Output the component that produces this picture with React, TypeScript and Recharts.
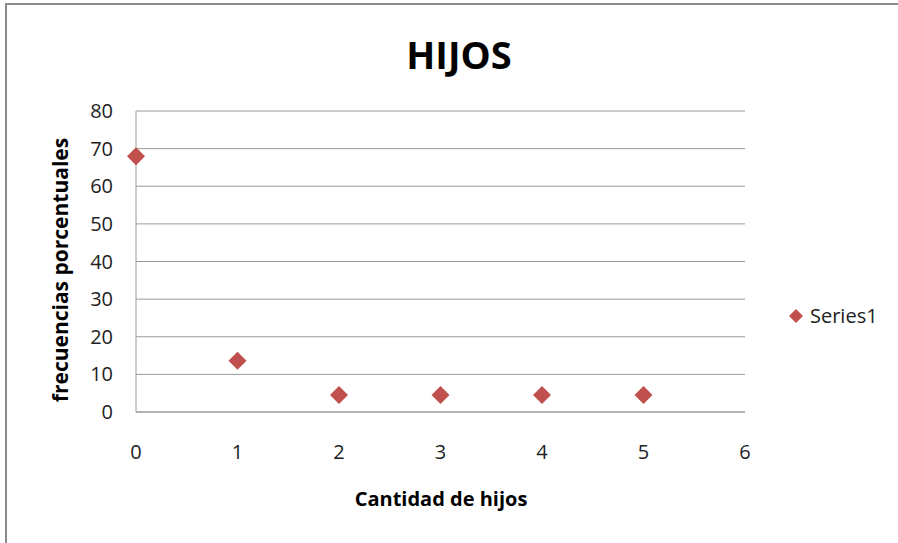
import { ScatterChart, Scatter, XAxis, YAxis, ZAxis, CartesianGrid } from 'recharts';

const hijos = [0, 1, 2, 3, 4, 5];
const frecuencias = [68, 13.6, 4.5, 4.5, 4.5, 4.5];
const xTicks = [0, 1, 2, 3, 4, 5, 6];
const yTicks = [0, 10, 20, 30, 40, 50, 60, 70, 80];
const seriesName = 'Series1';

const data = hijos.map((h, i) => ({ x: h, y: frecuencias[i] }));

const FONT = '"Open Sans", sans-serif';
const RED = '#C0504D';

function Diamond(props: any) {
  const { cx, cy } = props;
  const r = 9;
  return (
    <polygon
      points={`${cx},${cy - r} ${cx + r},${cy} ${cx},${cy + r} ${cx - r},${cy}`}
      fill={RED}
    />
  );
}

export default function App() {
  return (
    <div style={{ position: 'absolute', left: 0, top: 0, width: 898, height: 543, background: '#fff' }}>
      <div
        style={{
          position: 'absolute',
          left: 5,
          top: 3,
          width: 893,
          height: 540,
          borderTop: '2px solid #8c8c8c',
          borderLeft: '2px solid #8c8c8c',
          boxSizing: 'border-box',
        }}
      />
      <div
        style={{
          position: 'absolute',
          left: 0,
          top: 28,
          width: 918,
          textAlign: 'center',
          fontFamily: FONT,
          fontWeight: 700,
          fontSize: 38,
          color: '#000',
        }}
      >
        HIJOS
      </div>
      <div
        style={{
          position: 'absolute',
          left: 291,
          top: 485,
          width: 300,
          textAlign: 'center',
          fontFamily: FONT,
          fontWeight: 700,
          fontSize: 20,
          color: '#000',
        }}
      >
        Cantidad de hijos
      </div>
      <div
        style={{
          position: 'absolute',
          left: 61 - 160,
          top: 270 - 15,
          width: 320,
          height: 30,
          textAlign: 'center',
          fontFamily: FONT,
          fontWeight: 700,
          fontSize: 21,
          color: '#000',
          transform: 'rotate(-90deg)',
        }}
      >
        frecuencias porcentuales
      </div>
      <div
        style={{
          position: 'absolute',
          left: 788,
          top: 302,
          display: 'flex',
          alignItems: 'center',
          fontFamily: FONT,
          fontSize: 20,
          color: '#222',
        }}
      >
        <svg width={16} height={16} style={{ marginRight: 6 }}>
          <polygon points="8,1 15,8 8,15 1,8" fill={RED} />
        </svg>
        {seriesName}
      </div>
      <div style={{ position: 'absolute', left: 0, top: 0 }}>
        <ScatterChart width={898} height={543} margin={{ top: 111, right: 153, bottom: 0, left: 0 }}>
          <CartesianGrid vertical={false} stroke="#9a9a9a" />
          <XAxis
            type="number"
            dataKey="x"
            domain={[0, 6]}
            ticks={xTicks}
            height={131}
            tickLine={false}
            tickMargin={27}
            axisLine={{ stroke: '#9a9a9a' }}
            tick={{ fill: '#222', fontSize: 20, fontFamily: FONT }}
            interval={0}
          />
          <YAxis
            type="number"
            dataKey="y"
            domain={[0, 80]}
            ticks={yTicks}
            width={136}
            tickLine={false}
            tickMargin={17}
            axisLine={{ stroke: '#9a9a9a' }}
            tick={{ fill: '#222', fontSize: 20, fontFamily: FONT }}
            interval={0}
          />
          <ZAxis range={[150, 150]} />
          <Scatter name={seriesName} data={data} fill={RED} shape={<Diamond />} isAnimationActive={false} />
        </ScatterChart>
      </div>
    </div>
  );
}
